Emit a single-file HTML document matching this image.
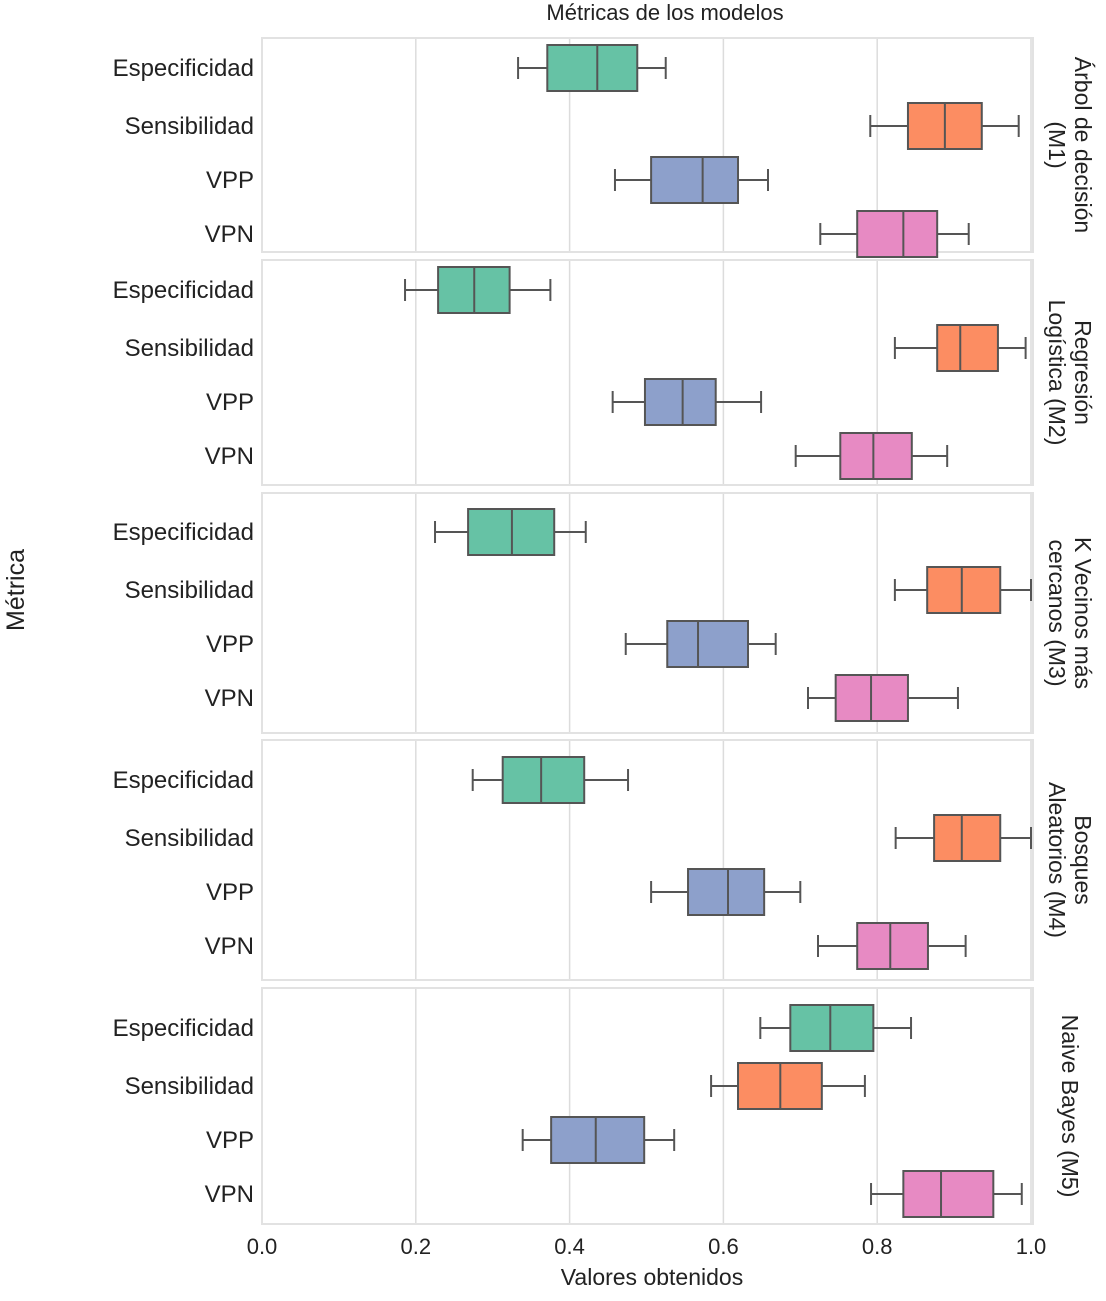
<!DOCTYPE html>
<html><head><meta charset="utf-8">
<style>
html,body{margin:0;padding:0;background:#fff;}
svg{display:block;font-family:"Liberation Sans",sans-serif;}
</style></head>
<body>
<svg id="chart" width="1106" height="1301" viewBox="0 0 1106 1301">
<text x="665" y="20" font-size="22" text-anchor="middle" fill="#222">Métricas de los modelos</text>
<text x="652" y="1285" font-size="23" text-anchor="middle" fill="#222">Valores obtenidos</text>
<text transform="translate(24,590) rotate(-90)" font-size="25" text-anchor="middle" fill="#222">Métrica</text>
<g id="panels"></g>
</svg>
<script>
const metrics = ["Especificidad","Sensibilidad","VPP","VPN"];
const models = [["Árbol de decisión","(M1)"],["Regresión","Logística (M2)"],["K Vecinos más","cercanos (M3)"],["Bosques","Aleatorios (M4)"],["Naive Bayes (M5)"]];
const xTicks = [0,0.2,0.4,0.6,0.8,1.0];
const xTickLabels = ["0.0","0.2","0.4","0.6","0.8","1.0"];
// [whiskerLow, q1, median, q3, whiskerHigh]
const m1 = [[0.333,0.371,0.436,0.488,0.525],[0.791,0.840,0.888,0.936,0.984],[0.459,0.506,0.573,0.619,0.658],[0.726,0.774,0.834,0.878,0.919]];
const m2 = [[0.186,0.229,0.276,0.322,0.375],[0.823,0.878,0.908,0.957,0.993],[0.456,0.498,0.547,0.590,0.649],[0.694,0.752,0.795,0.845,0.891]];
const m3 = [[0.225,0.268,0.325,0.380,0.421],[0.823,0.865,0.910,0.960,1.0],[0.473,0.527,0.567,0.632,0.668],[0.710,0.746,0.792,0.840,0.905]];
const m4 = [[0.274,0.313,0.363,0.419,0.476],[0.824,0.874,0.910,0.960,1.0],[0.506,0.554,0.606,0.653,0.700],[0.723,0.774,0.817,0.866,0.915]];
const m5 = [[0.648,0.687,0.739,0.795,0.844],[0.584,0.619,0.674,0.728,0.784],[0.339,0.376,0.434,0.497,0.536],[0.792,0.834,0.883,0.951,0.988]];
const allData = [m1,m2,m3,m4,m5];

const colors = ["#66c2a5","#fc8d62","#8da0cb","#e78ac3"];
const panelTops = [38,260,493,740,988], panelBots = [252,485,733,980,1224];
const firstRow = [30,30,39,40,40];
const rowGaps = [0,58,112,166];
const X0 = 262, X1 = 1031;
const xs = v => X0 + v*(X1-X0);
const NS = "http://www.w3.org/2000/svg";
const root = document.getElementById("panels");
function mk(tag, attrs, parent){const e=document.createElementNS(NS,tag);for(const k in attrs)e.setAttribute(k,attrs[k]);(parent||root).appendChild(e);return e;}

allData.forEach((data,p)=>{
  const top=panelTops[p], bot=panelBots[p], h=bot-top;
  const g = mk("g",{});
  
  
  xTicks.forEach(t=>{
    const l = mk("line",{x1:xs(t),x2:xs(t),y1:top,y2:bot,stroke:"#dcdcdc","stroke-width":1.5},g);
    
    
  });
  const fr = mk("rect",{x:X0,y:top,width:X1-X0+2,height:h,fill:"none",stroke:"#e2e2e2","stroke-width":2},g);
  
  
  data.forEach((d,i)=>{
    const cy = top + firstRow[p] + rowGaps[i];
    const lab = mk("text",{x:254,y:cy+8,"font-size":24,"text-anchor":"end",fill:"#222"},g);
    lab.textContent = metrics[i];
    
    
    const bg = mk("g",{stroke:"#555","stroke-width":2},g);
    
    
    const bh=46;
    mk("line",{x1:xs(d[0]),x2:xs(d[1]),y1:cy,y2:cy},bg);
    mk("line",{x1:xs(d[3]),x2:xs(d[4]),y1:cy,y2:cy},bg);
    mk("line",{x1:xs(d[0]),x2:xs(d[0]),y1:cy-11,y2:cy+11},bg);
    mk("line",{x1:xs(d[4]),x2:xs(d[4]),y1:cy-11,y2:cy+11},bg);
    mk("rect",{x:xs(d[1]),y:cy-bh/2,width:xs(d[3])-xs(d[1]),height:bh,fill:colors[i]},bg);
    mk("line",{x1:xs(d[2]),x2:xs(d[2]),y1:cy-bh/2,y2:cy+bh/2},bg);
  });
  const lines = models[p];
  const cy = (top+bot)/2;
  const st = mk("text",{transform:`translate(1070,${cy}) rotate(90)`,"font-size":23,"text-anchor":"middle",fill:"#222"},g);
  
  
  lines.forEach((ln,k)=>{
    const ts = mk("tspan",{x:0,y:(lines.length===1?8:(k===0?-5:21))},st);
    ts.textContent = ln;
  });
});
xTicks.forEach((t,i)=>{
  const tl = mk("text",{x:xs(t),y:1254,"font-size":22,"text-anchor":"middle",fill:"#222"});
  tl.textContent = xTickLabels[i];
  
  
});
</script>
</body></html>
